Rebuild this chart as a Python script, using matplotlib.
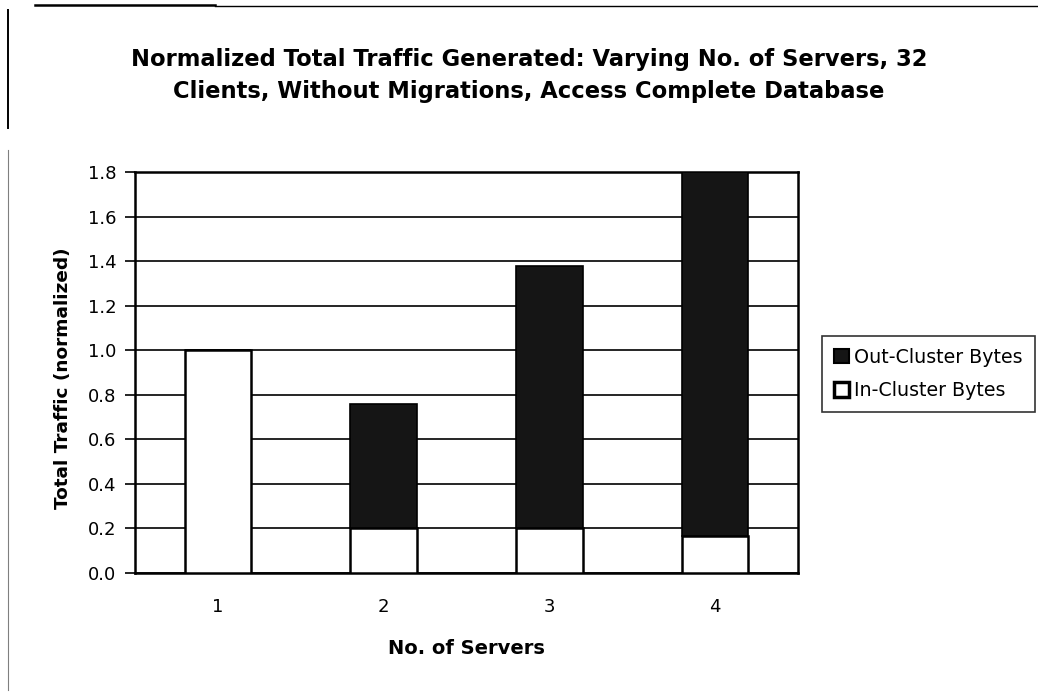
import matplotlib
matplotlib.use("Agg")
import matplotlib.pyplot as plt
from matplotlib.lines import Line2D
from matplotlib.patches import Patch
import numpy as np

servers = ["1", "2", "3", "4"]
in_cluster = [1.0, 0.20, 0.20, 0.165]
out_cluster = [0.0, 0.56, 1.18, 1.635]
y_ticks = [0.0, 0.2, 0.4, 0.6, 0.8, 1.0, 1.2, 1.4, 1.6, 1.8]
title_lines = ["Normalized Total Traffic Generated: Varying No. of Servers, 32",
               "Clients, Without Migrations, Access Complete Database"]

plt.rcParams['font.family'] = ['DejaVu Sans']

W, H = 1038, 700
fig = plt.figure(figsize=(W/100, H/100), dpi=100)
ax = fig.add_axes([135/W, 1-573/H, (798-135)/W, (573-172)/H])

x = np.arange(len(servers))
w = 0.4
ax.bar(x, in_cluster, width=w, color="white", edgecolor="black", linewidth=1.8, zorder=3,
       label="In-Cluster Bytes")
ax.bar(x, out_cluster, width=w, bottom=in_cluster, color="#151515", edgecolor="black",
       linewidth=1.2, zorder=3, label="Out-Cluster Bytes")

ax.set_xlim(-0.5, len(servers) - 0.5)
ax.set_ylim(0, 1.8)
ax.set_yticks(y_ticks)
ax.set_yticklabels([f"{v:.1f}" for v in y_ticks], fontsize=13)
ax.set_xticks(x)
ax.set_xticklabels(servers, fontsize=13)
ax.tick_params(axis="x", length=0, pad=18)
ax.tick_params(axis="y", length=7, width=1.2, direction="out", pad=6.5)
ax.yaxis.grid(True, color="black", linewidth=1.2, zorder=0)
ax.set_axisbelow(True)
for s in ax.spines.values():
    s.set_linewidth(1.8)
    s.set_color("black")

ax.set_ylabel("Total Traffic (normalized)", fontsize=13.3, fontweight="bold")
ax.yaxis.set_label_coords((63-135)/(798-135), (573-378)/(573-172))
ax.set_xlabel("No. of Servers", fontsize=14, fontweight="bold")
ax.xaxis.set_label_coords((466-135)/(798-135), -(648-573)/(573-172))
ax.xaxis.label.set_va("center")
ax.yaxis.label.set_va("center")

fig.text(529/W, 1-66/H, title_lines[0], ha="center", va="baseline",
         fontsize=16.3, fontweight="bold")
fig.text(529/W, 1-98/H, title_lines[1], ha="center", va="baseline",
         fontsize=16.3, fontweight="bold")

handles = [Patch(facecolor="#151515", edgecolor="black", linewidth=1.5),
           Patch(facecolor="white", edgecolor="black", linewidth=2.5)]
leg = fig.legend(handles, ["Out-Cluster Bytes", "In-Cluster Bytes"],
                 loc="center left", bbox_to_anchor=(822/W, 1-374/H),
                 fontsize=13.7, frameon=True, fancybox=False, handlelength=0.78,
                 handleheight=0.78, handletextpad=0.3, borderpad=0.62, labelspacing=0.76,
                 borderaxespad=0)
leg.get_frame().set_edgecolor("black")
leg.get_frame().set_linewidth(1.2)

# scanned chart-area border fragments
fig.add_artist(Line2D([35/W, 215/W], [1-5/H, 1-5/H], color="black", linewidth=1.8))
fig.add_artist(Line2D([215/W, 1.0], [1-6/H, 1-6/H], color="black", linewidth=1.0))
fig.add_artist(Line2D([8/W, 8/W], [1-10/H, 1-128/H], color="black", linewidth=1.4))
fig.add_artist(Line2D([8/W, 8/W], [1-150/H, 1-690/H], color="black", linewidth=0.8, alpha=0.5))

fig.savefig("out.png", dpi=100)
